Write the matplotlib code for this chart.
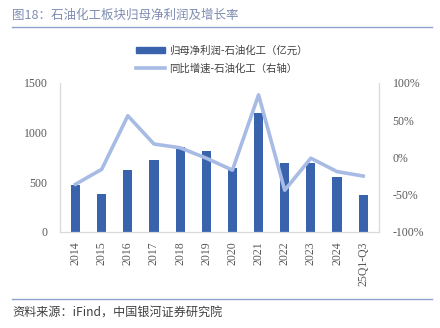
import numpy as np
import matplotlib.pyplot as plt
from matplotlib.lines import Line2D
from matplotlib.patches import Patch

plt.rcParams['font.family'] = ['Liberation Serif', 'Noto Sans CJK SC']

categories = ['2014', '2015', '2016', '2017', '2018', '2019', '2020',
              '2021', '2022', '2023', '2024', '25Q1-Q3']
profit = [470, 378, 621, 722, 856, 815, 640, 1193, 695, 695, 554, 368]
growth = [-36, -16, 56, 18, 13, -1, -17, 84, -44, -1, -19, -25]

bar_color = '#3a63ae'
line_color = '#a7bbe4'
tick_color = '#595959'
cjk = ['Noto Sans CJK SC', 'DejaVu Sans']

fig = plt.figure(figsize=(4.4, 3.28), dpi=100)
ax = fig.add_axes([0.136, 0.293, 0.725, 0.454])
ax2 = ax.twinx()

x = np.arange(len(categories))
ax.bar(x, profit, width=0.35, color=bar_color, zorder=2)
ax2.plot(x, growth, color=line_color, lw=2.6, zorder=3)

ax.set_xlim(-0.6, len(categories) - 0.4)
ax.set_ylim(0, 1500)
ax.set_yticks([0, 500, 1000, 1500])
ax2.set_ylim(-100, 100)
ax2.set_yticks([-100, -50, 0, 50, 100])
ax2.set_yticklabels([f'{v}%' for v in [-100, -50, 0, 50, 100]])

ax.set_xticks(x)
ax.set_xticklabels(categories, rotation=90)
for a in (ax, ax2):
    a.tick_params(length=0, labelsize=8.5, labelcolor=tick_color)
    a.spines['top'].set_visible(False)
    for side in ('left', 'right', 'bottom'):
        a.spines[side].set_color('#d9d9d9')
ax.tick_params(axis='y', pad=9)
ax2.tick_params(axis='y', pad=10)
ax.tick_params(axis='x', pad=7)

handles = [Patch(color=bar_color), Line2D([0], [0], color=line_color, lw=2.6)]
labels = ['归母净利润-石油化工（亿元）', '同比增速-石油化工（右轴）']
fig.legend(handles, labels, loc='upper left', bbox_to_anchor=(0.30, 0.875),
           frameon=False, prop={'family': cjk, 'size': 7.5},
           labelcolor='#404040', handlelength=2.8, handleheight=0.6,
           labelspacing=0.75, handletextpad=0.4, borderaxespad=0)

# title and source
fig.text(0.027, 0.955, '图18：石油化工板块归母净利润及增长率', family=cjk,
         fontsize=9, color='#7f8db3', va='center')
fig.add_artist(Line2D([0.027, 0.982], [0.918, 0.918], color='#8fa2cc', lw=1))
fig.add_artist(Line2D([0.027, 0.982], [0.088, 0.088], color='#8fa2cc', lw=1))
fig.text(0.027, 0.045, '资料来源：iFind，中国银河证券研究院', family=cjk,
         fontsize=8.7, color='#404040', va='center', style='italic')

fig.savefig('out.png', dpi=100)
